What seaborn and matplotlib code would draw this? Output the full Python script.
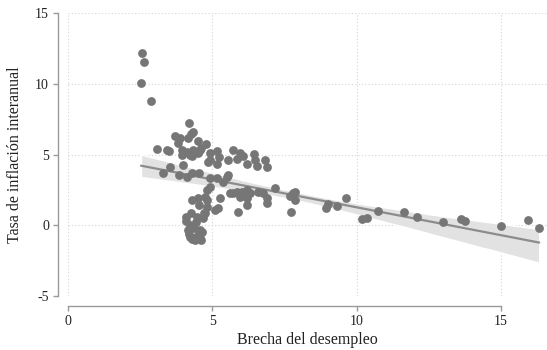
import numpy as np
import pandas as pd
import matplotlib
matplotlib.use("Agg")
import matplotlib.pyplot as plt
import seaborn as sns

# Unemployment gap (x) and year-on-year inflation (y)
brecha = [
    2.56, 2.63, 2.53, 2.88,
    4.21, 4.32, 3.71, 3.88, 4.16, 3.81, 4.51, 4.78, 4.26, 3.08, 3.43, 3.50,
    3.95, 4.12, 3.95, 4.30, 4.58, 4.33, 4.61, 4.92, 5.16, 5.25, 5.72, 5.96,
    6.08, 6.43, 6.48, 5.55, 5.84, 6.83, 6.88, 6.20, 6.55, 4.85, 5.15, 3.52,
    3.99, 4.23, 4.51, 4.92,
    3.29, 3.85, 4.12, 4.30, 4.54, 4.92, 5.16, 5.51, 5.55, 5.37, 4.92, 4.82,
    4.75, 4.30, 4.51, 4.82, 5.27, 5.62, 5.86, 6.03, 6.20, 6.31, 5.96, 6.20,
    6.59, 6.76, 6.90, 7.18, 7.80, 7.87, 7.69, 7.87, 5.72,
    5.20, 5.10, 4.82, 4.75, 4.68, 4.47, 4.09, 4.23, 4.16, 4.58, 4.23, 4.58,
    4.33, 4.40, 4.61, 6.20, 5.89, 6.90, 7.73, 4.26,
    4.20, 4.50, 4.35, 4.65, 4.10, 4.45, 4.70, 4.55, 4.30,
    8.94, 9.01, 9.32, 9.64, 10.19, 10.36, 10.75, 11.65, 12.10, 13.00, 13.62,
    13.76, 15.01, 15.94, 16.33,
]
inflacion = [
    12.20, 11.56, 10.07, 8.79,
    7.20, 6.56, 6.31, 6.17, 6.17, 5.81, 5.96, 5.74, 6.45, 5.42, 5.32, 5.25,
    5.32, 5.18, 4.96, 4.89, 5.32, 5.32, 5.46, 5.10, 5.25, 4.82, 5.32, 5.14,
    4.86, 5.03, 4.61, 4.64, 4.71, 4.64, 4.15, 4.32, 4.18, 4.47, 4.36, 4.15,
    4.25, 4.96, 5.10, 4.61,
    3.72, 3.55, 3.40, 3.69, 3.69, 3.33, 3.33, 3.40, 3.55, 3.05, 2.69, 2.48,
    1.99, 1.77, 1.91, 1.77, 1.91, 2.27, 2.34, 2.34, 2.48, 2.27, 1.99, 1.91,
    2.34, 2.27, 1.91, 2.62, 2.27, 1.77, 2.06, 2.34, 2.27,
    1.21, 1.06, 1.28, 0.85, 0.50, 0.57, 0.57, 0.00, -0.35, -0.35, -0.85, -0.92,
    -0.92, -1.06, -1.06, 1.42, 0.92, 1.56, 0.92, 0.85,
    -0.60, -0.70, -0.20, -0.50, 0.30, 0.20, 0.90, 1.40, -1.00,
    1.21, 1.49, 1.35, 1.91, 0.43, 0.50, 0.99, 0.92, 0.57, 0.21, 0.43,
    0.28, -0.07, 0.35, -0.21,
]
x_ticks = [0, 5, 10, 15]
y_ticks = [-5, 0, 5, 10, 15]
x_label = "Brecha del desempleo"
y_label = "Tasa de inflación interanual"

df = pd.DataFrame({"brecha": brecha, "inflacion": inflacion})

sns.set_style("white")
plt.rcParams["font.family"] = ["Liberation Serif", "DejaVu Serif"]

fig = plt.figure(figsize=(5.47, 3.5), dpi=100)
ax = fig.add_axes([68 / 547, 1 - 296 / 350, 1 - 68 / 547, (296 - 13) / 350])

sns.regplot(
    data=df, x="brecha", y="inflacion", ax=ax, seed=0,
    scatter_kws=dict(s=40, color="#767676", alpha=1, linewidths=0, zorder=3),
    line_kws=dict(color="#8c8c8c", lw=1.6, zorder=2),
    color="#9a9a9a",
)
# lighten confidence band
for coll in ax.collections[1:]:
    coll.set_facecolor("#e2e2e2")
    coll.set_alpha(1)
    coll.set_zorder(1)

ax.set_xlim(0, 16.6)
ax.set_ylim(-5, 15)
ax.set_xticks(x_ticks)
ax.set_yticks(y_ticks)
ax.set_xticklabels([str(t) for t in x_ticks])
ax.set_yticklabels([str(t) for t in y_ticks])
ax.grid(True, linestyle=(0, (1, 2)), color="#d4d4d4", lw=0.8, zorder=0)
ax.set_axisbelow(True)

for side in ["top", "right"]:
    ax.spines[side].set_visible(False)
for side in ["left", "bottom"]:
    ax.spines[side].set_position(("outward", 7.2))
    ax.spines[side].set_color("#9a9a9a")
    ax.spines[side].set_linewidth(1.0)
ax.spines["bottom"].set_bounds(0, 15)
ax.spines["left"].set_bounds(-5, 15)

ax.tick_params(axis="both", which="major", direction="out", length=3.5,
               width=1.0, color="#9a9a9a", labelsize=10, labelcolor="#222222",
               left=True, bottom=True, pad=3)
ax.set_xlabel(x_label, fontsize=11.5, color="#222222", labelpad=3)
ax.set_ylabel(y_label, fontsize=11.5, color="#222222", labelpad=9)

fig.savefig("out.png", dpi=100)
